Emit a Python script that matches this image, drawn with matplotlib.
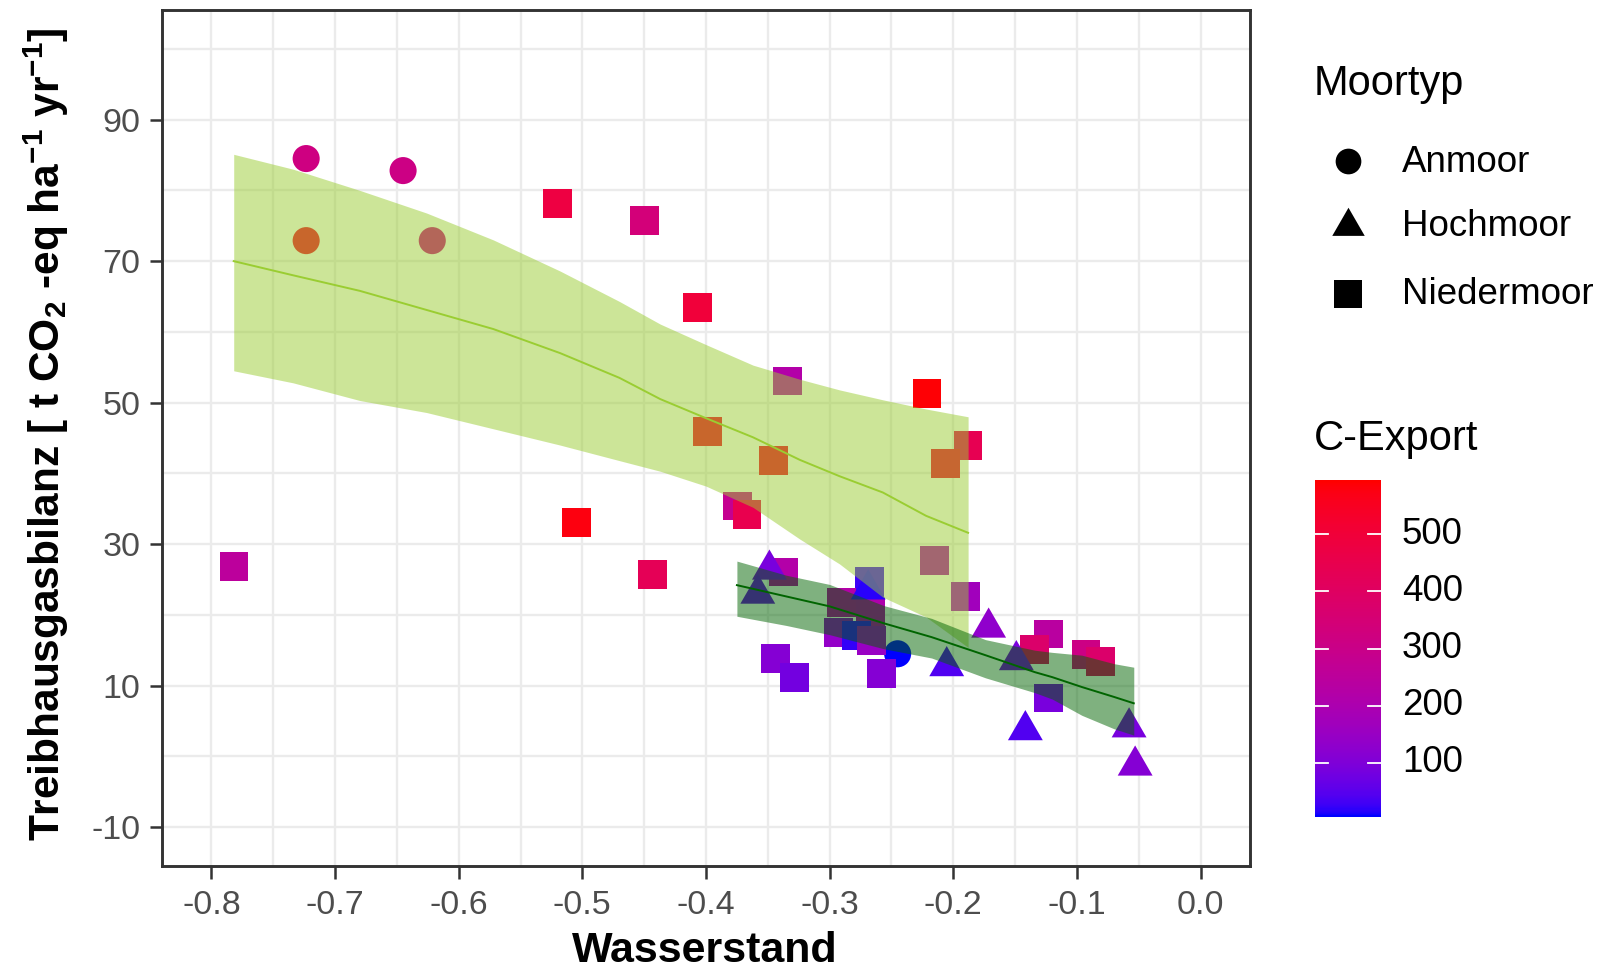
import numpy as np
import matplotlib
matplotlib.use("Agg")
import matplotlib.pyplot as plt
from matplotlib.colors import ListedColormap, Normalize
from matplotlib.lines import Line2D
from matplotlib.path import Path

plt.rcParams['font.family'] = ['Liberation Sans', 'DejaVu Sans']
plt.rcParams['mathtext.fontset'] = 'custom'
plt.rcParams['mathtext.rm'] = 'Liberation Sans:bold'
plt.rcParams['mathtext.default'] = 'rm'
plt.rcParams['axes.unicode_minus'] = False

# ---------------- data ----------------
anmoor_x = [-0.7234, -0.645, -0.7234, -0.6214, -0.245]
anmoor_y = [84.5, 82.8, 72.9, 72.9, 14.5]
anmoor_c = [320, 310, 540, 320, 5]

hoch_x = [-0.3487, -0.3581, -0.2688, -0.1714, -0.2053, -0.149, -0.1417, -0.0578, -0.0529]
hoch_y = [26.4, 23.0, 23.6, 18.2, 12.75, 13.6, 3.7, 4.1, -1.3]
hoch_c = [90, 70, 15, 130, 40, 90, 40, 90, 110]

nieder_x = [-0.520, -0.4496, -0.4066, -0.5048, -0.4433, -0.7818, -0.3985, -0.3455, -0.3338, -0.2212,
            -0.1881, -0.206, -0.3748, -0.3669, -0.2154, -0.1904, -0.3376, -0.3438, -0.3284, -0.2675,
            -0.2903, -0.2667, -0.2927, -0.2783, -0.2661, -0.258, -0.1233, -0.1341, -0.1233, -0.0927,
            -0.0808]
nieder_y = [78.2, 75.8, 63.5, 33.1, 25.75, 26.8, 45.95, 41.86, 53.06, 51.3,
            43.9, 41.4, 35.4, 34.2, 27.74, 22.6, 26.06, 13.84, 11.16, 24.7,
            21.8, 20.4, 17.55, 17.1, 16.4, 11.76, 17.3, 15.1, 8.24, 14.44,
            13.4]
nieder_c = [480, 340, 500, 580, 430, 250, 540, 540, 220, 590,
            440, 520, 280, 450, 200, 170, 220, 110, 80, 25,
            220, 210, 140, 20, 150, 110, 240, 380, 90, 310,
            380]

# smoother bands
yel_x = [-0.782, -0.734, -0.680, -0.626, -0.572, -0.518, -0.470, -0.437, -0.400, -0.362, -0.324, -0.292, -0.257, -0.222, -0.188]
yel_lo = [54.5, 52.8, 50.3, 48.6, 46.3, 44.0, 41.8, 40.3, 38.2, 35.2, 30.7, 27.2, 22.5, 19.7, 15.4]
yel_fit = [70.0, 68.0, 65.8, 63.1, 60.4, 57.0, 53.5, 50.5, 47.8, 45.1, 41.9, 39.6, 37.3, 34.0, 31.6]
yel_hi = [85.1, 83.0, 80.0, 76.8, 73.0, 68.6, 64.3, 61.1, 58.2, 55.3, 53.3, 51.8, 50.4, 49.1, 48.0]

grn_x = [-0.375, -0.335, -0.300, -0.256, -0.2175, -0.174, -0.134, -0.120, -0.096, -0.070, -0.054]
grn_lo = [19.8, 18.5, 17.2, 15.2, 13.9, 11.1, 9.0, 8.1, 5.8, 3.9, 3.0]
grn_fit = [24.2, 22.6, 21.2, 18.8, 16.85, 14.3, 11.9, 11.2, 9.8, 8.4, 7.5]
grn_hi = [27.6, 25.6, 24.3, 21.3, 19.5, 16.5, 15.0, 14.7, 14.3, 13.1, 12.6]

x_ticks = [-0.8, -0.7, -0.6, -0.5, -0.4, -0.3, -0.2, -0.1, 0.0]
y_ticks = [-10, 10, 30, 50, 70, 90]
cb_ticks = [100, 200, 300, 400, 500]
c_min, c_max = 4.9, 595.1
shape_labels = ["Anmoor", "Hochmoor", "Niedermoor"]

# ---------------- colour scale (Lab interpolation blue -> red) ----------------
M = np.array([[0.4124564, 0.3575761, 0.1804375],
              [0.2126729, 0.7151522, 0.0721750],
              [0.0193339, 0.1191920, 0.9503041]])
WP = np.array([0.95047, 1.0, 1.08883])


def srgb2lab(c):
    c = np.asarray(c, float) / 255
    lin = np.where(c <= 0.04045, c / 12.92, ((c + 0.055) / 1.055) ** 2.4)
    t = (M @ lin) / WP
    f = np.where(t > (6 / 29) ** 3, np.cbrt(t), t / (3 * (6 / 29) ** 2) + 4 / 29)
    return np.array([116 * f[1] - 16, 500 * (f[0] - f[1]), 200 * (f[1] - f[2])])


def lab2srgb(lab):
    L, a, b = lab
    fy = (L + 16) / 116
    fx = fy + a / 500
    fz = fy - b / 200

    def finv(f):
        return np.where(f > 6 / 29, f ** 3, 3 * (6 / 29) ** 2 * (f - 4 / 29))
    xyz = np.array([finv(fx), finv(fy), finv(fz)]) * WP
    lin = np.clip(np.linalg.inv(M) @ xyz, 0, 1)
    c = np.where(lin <= 0.0031308, 12.92 * lin, 1.055 * lin ** (1 / 2.4) - 0.055)
    return np.clip(c, 0, 1)


lab_lo = srgb2lab([0, 0, 255])
lab_hi = srgb2lab([255, 0, 0])
cols = [lab2srgb(lab_lo + (lab_hi - lab_lo) * t) for t in np.linspace(0, 1, 256)]
cmap = ListedColormap(cols)
norm = Normalize(c_min, c_max)

# equilateral triangle centred on centroid (like R pch 17)
tri = Path([(0, 1.5551), (-1.3468, -0.7776), (1.3468, -0.7776), (0, 1.5551)],
           [Path.MOVETO, Path.LINETO, Path.LINETO, Path.CLOSEPOLY])

# ---------------- figure ----------------
W, H = 1607, 972
fig = plt.figure(figsize=(W / 100, H / 100), dpi=100)
L_, R_, T_, B_ = 162, 1250, 10, 866
ax = fig.add_axes([L_ / W, 1 - B_ / H, (R_ - L_) / W, (B_ - T_) / H])

ax.set_xlim(-0.84, 0.04)
ax.set_ylim(-15.5, 105.5)
ax.set_xticks(x_ticks)
ax.set_xticklabels([f"{v:.1f}" for v in x_ticks])
ax.set_yticks(y_ticks)
ax.set_yticklabels([str(v) for v in y_ticks])
ax.set_xticks(np.arange(-0.75, 0.0, 0.1), minor=True)
ax.set_yticks([0, 20, 40, 60, 80, 100], minor=True)
ax.grid(True, which='major', color='#EBEBEB', lw=1.7, zorder=0)
ax.grid(True, which='minor', color='#EBEBEB', lw=1.7, zorder=0)
ax.set_axisbelow(True)
ax.tick_params(which='minor', length=0)
ax.tick_params(which='major', length=9, width=1.8, color='#333333',
               labelsize=24.5, labelcolor='#4D4D4D')
ax.tick_params(axis='x', pad=8)
ax.tick_params(axis='y', pad=6.5)
for s in ax.spines.values():
    s.set_color('#333333')
    s.set_linewidth(2.1)

ax.scatter(anmoor_x, anmoor_y, c=anmoor_c, cmap=cmap, norm=norm, marker='o', s=380,
           linewidths=0, zorder=2)
ax.scatter(nieder_x, nieder_y, c=nieder_c, cmap=cmap, norm=norm, marker='s', s=430,
           linewidths=0, zorder=2)
ax.scatter(hoch_x, hoch_y, c=hoch_c, cmap=cmap, norm=norm, marker=tri, s=840,
           linewidths=0, zorder=2)

ax.fill_between(yel_x, yel_lo, yel_hi, color='yellowgreen', alpha=0.5, lw=0, zorder=3)
ax.plot(yel_x, yel_fit, color='yellowgreen', lw=1.4, zorder=3)
ax.fill_between(grn_x, grn_lo, grn_hi, color='darkgreen', alpha=0.5, lw=0, zorder=3)
ax.plot(grn_x, grn_fit, color='darkgreen', lw=1.4, zorder=3)

fig.text(705 / W, 1 - 951 / H, "Wasserstand", fontsize=31, fontweight='bold',
         ha='center', va='center')
fig.text(46 / W, 1 - 434 / H,
         r"Treibhausgasbilanz [ t CO$_2$ -eq ha$^{-1}$ yr$^{-1}$]",
         fontsize=30.5, fontweight='bold', rotation=90, ha='center', va='center')

# ---------------- legend: shapes ----------------
fig.text(1314 / W, 1 - 84 / H, "Moortyp", fontsize=30, ha='left', va='center')
key_y = [161, 226, 294]
key_m = ['o', tri, 's']
key_ms = [18.5, 27, 20.5]
for lab, yy, mk, ms in zip(shape_labels, key_y, key_m, key_ms):
    fig.add_artist(Line2D([1348 / W], [1 - yy / H], transform=fig.transFigure,
                          marker=mk, markersize=ms, color='black', linestyle='none',
                          markeredgewidth=0))
    fig.text(1402 / W, 1 - (yy + 1) / H, lab, fontsize=26.5, ha='left', va='center')

# ---------------- legend: colour bar ----------------
fig.text(1314 / W, 1 - 439 / H, "C-Export", fontsize=30, ha='left', va='center')
cb_l, cb_r, cb_t, cb_b = 1315, 1381, 480, 817
cax = fig.add_axes([cb_l / W, 1 - cb_b / H, (cb_r - cb_l) / W, (cb_b - cb_t) / H])
grad = np.linspace(c_min, c_max, 300).reshape(-1, 1)
cax.imshow(grad, cmap=cmap, norm=norm, aspect='auto', origin='lower',
           extent=[0, 1, c_min, c_max])
cax.set_xlim(0, 1)
cax.set_ylim(c_min, c_max)
for v in cb_ticks:
    cax.plot([0, 0.19], [v, v], color='white', lw=1.3)
    cax.plot([0.81, 1], [v, v], color='white', lw=1.3)
    yy = cb_t + (c_max - v) / (c_max - c_min) * (cb_b - cb_t)
    fig.text(1402 / W, 1 - yy / H, str(v), fontsize=26.5, ha='left', va='center')
cax.set_axis_off()

fig.savefig("out.png", dpi=100)
